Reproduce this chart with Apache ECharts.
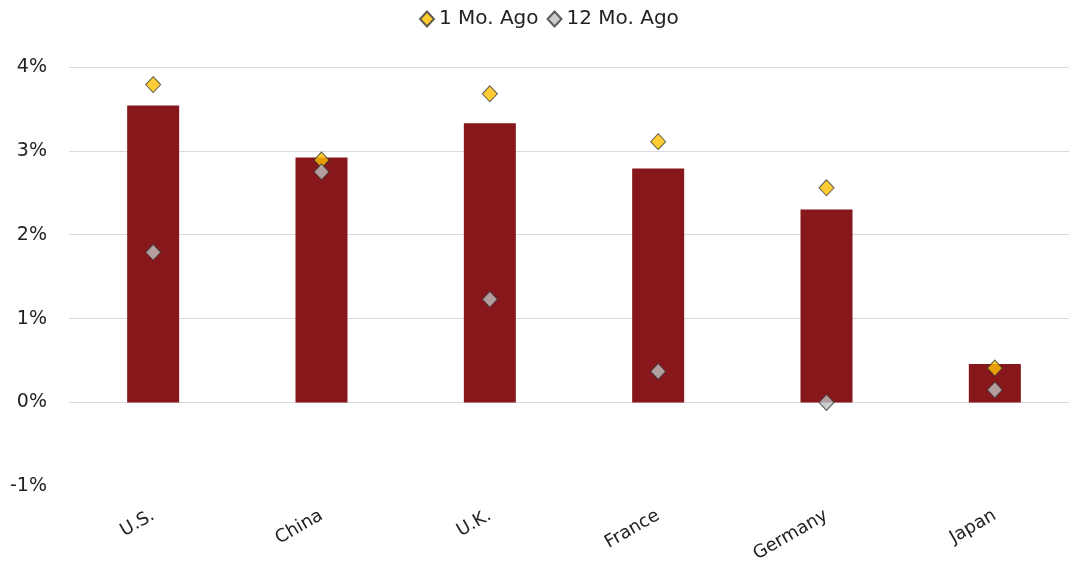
<!DOCTYPE html>
<html><head><meta charset="utf-8">
<script src="https://cdn.jsdelivr.net/npm/echarts@6/dist/echarts.min.js"></script>
<style>html,body{margin:0;padding:0;background:#fff;overflow:hidden;width:1069px;height:565px}#c{width:1079px;height:565px}</style>
</head><body><div id="c"></div>
<script>
const categories = ['U.S.', 'China', 'U.K.', 'France', 'Germany', 'Japan'];
const currentValues = [3.54, 2.92, 3.33, 2.79, 2.30, 0.46];
const oneMonthAgo = [3.79, 2.89, 3.68, 3.11, 2.56, 0.41];
const twelveMonthsAgo = [1.79, 2.75, 1.23, 0.37, 0.00, 0.15];
const yTicks = [-1, 0, 1, 2, 3, 4];

const font = '"DejaVu Sans", sans-serif';
const chart = echarts.init(document.getElementById('c'));
chart.setOption({
  animation: false,
  legend: {
    top: 4, left: 414, itemGap: 8, itemWidth: 14, itemHeight: 15,
    textStyle: {fontFamily: font, fontSize: 20, color: '#222'},
    data: ['1 Mo. Ago', '12 Mo. Ago']
  },
  grid: {left: 69, right: 0, top: 67, bottom: 78, containLabel: false},
  xAxis: {
    type: 'category', data: categories,
    axisLine: {show: false}, axisTick: {show: false},
    axisLabel: {rotate: 30, margin: 28, fontFamily: font, fontSize: 18, color: '#222'}
  },
  yAxis: {
    type: 'value', min: yTicks[0], max: yTicks[yTicks.length - 1], interval: 1,
    axisLine: {show: false}, axisTick: {show: false},
    axisLabel: {margin: 22, fontFamily: font, fontSize: 19, color: '#222', formatter: v => v + '%'},
    splitLine: {show: true, showMinLine: false, lineStyle: {color: '#d9d9d9', width: 1}}
  },
  series: [
    {name: 'Current', type: 'bar', data: currentValues, barWidth: 52,
     itemStyle: {color: '#87171a'}, z: 1},
    {name: '1 Mo. Ago', type: 'scatter', data: oneMonthAgo, symbol: 'diamond', symbolSize: [15, 16],
     itemStyle: {color: '#ffc000', borderColor: '#3a3a3a', borderWidth: 1}, z: 3},
    {name: '12 Mo. Ago', type: 'scatter', data: twelveMonthsAgo, symbol: 'diamond', symbolSize: [15, 16],
     itemStyle: {color: '#bfbfbf', borderColor: '#3a3a3a', borderWidth: 1}, z: 3}
  ]
});
</script></body></html>
